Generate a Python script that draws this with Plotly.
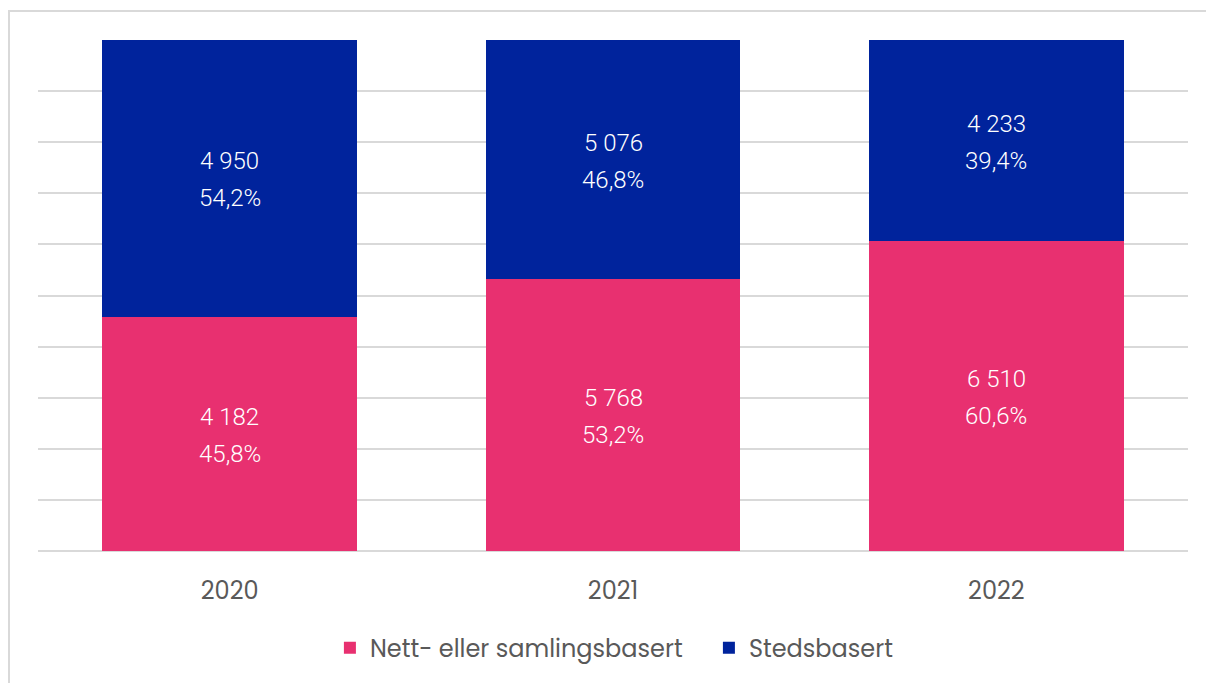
import plotly.graph_objects as go

years = ["2020", "2021", "2022"]
nett_counts = [4182, 5768, 6510]
nett_pct = [45.8, 53.2, 60.6]
sted_counts = [4950, 5076, 4233]
sted_pct = [54.2, 46.8, 39.4]

PINK = "#E83070"
BLUE = "#00239C"

def fmt_count(v):
    return f"{v:,}".replace(",", " ")

def fmt_pct(p):
    return f"{p:.1f}%".replace(".", ",")

LABEL_FONT = dict(family="Roboto, Arial", size=24, color="white", weight=300)

fig = go.Figure()
fig.add_trace(go.Bar(x=years, y=nett_pct, name="Nett- eller samlingsbasert",
                     marker=dict(color=PINK, line=dict(width=0)), hoverinfo="skip"))
fig.add_trace(go.Bar(x=years, y=sted_pct, name="Stedsbasert",
                     marker=dict(color=BLUE, line=dict(width=0)), hoverinfo="skip"))

annotations = []
for i, yr in enumerate(years):
    segs = [(0, nett_pct[i], nett_counts[i]), (nett_pct[i], sted_pct[i], sted_counts[i])]
    for base, p, c in segs:
        mid = base + p / 2
        annotations.append(dict(x=i, y=mid, text=fmt_count(c), showarrow=False,
                                yshift=17, font=LABEL_FONT))
        annotations.append(dict(x=i, y=mid, text=fmt_pct(p), showarrow=False,
                                yshift=-20, font=LABEL_FONT))

fig.update_layout(
    barmode="stack",
    bargap=0.335,
    width=1206, height=675,
    margin=dict(l=30, r=26, t=32, b=132),
    plot_bgcolor="white", paper_bgcolor="white",
    showlegend=True,
    legend=dict(orientation="h", x=0.5834, xanchor="center", y=-0.19, yanchor="middle",
                font=dict(family="Poppins, Inter, Open Sans", size=24, color="#595959"),
                traceorder="normal", itemwidth=30, entrywidth=334),
    annotations=annotations,
    xaxis=dict(type="category", range=[-0.5, 2.5], showgrid=False, showline=False,
               zeroline=False, ticks="", ticklabelstandoff=23,
               tickfont=dict(family="Poppins, Inter, Open Sans", size=24, color="#595959")),
    yaxis=dict(range=[0, 100], dtick=10, showticklabels=False, showgrid=True,
               gridcolor="#d9d9d9", gridwidth=1.5, zeroline=True, zerolinecolor="#d9d9d9",
               zerolinewidth=1.5, showline=False),
    shapes=[dict(type="rect", xref="paper", yref="paper", x0=-0.0252, x1=1.1,
                 y0=-0.4, y1=1.0568, line=dict(color="#d9d9d9", width=2), layer="below")],
)

fig.write_html("out.html")
